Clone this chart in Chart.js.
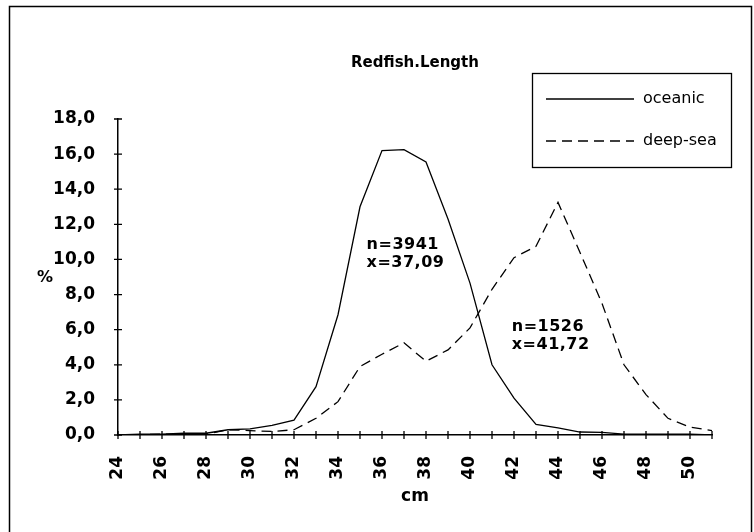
<!DOCTYPE html>
<html>
<head>
  <title>Redfish.Length</title>
  <script src="https://cdn.jsdelivr.net/npm/chart.js@4.4.1/dist/chart.umd.min.js"></script>
  <style>
    body { margin: 0; background: #fff; }
    canvas { display: block; }
  </style>
  <script>
    // length classes, cm
    var cm = [24, 25, 26, 27, 28, 29, 30, 31, 32, 33, 34, 35, 36, 37,
              38, 39, 40, 41, 42, 43, 44, 45, 46, 47, 48, 49, 50, 51];
    // percent per length class
    var oceanic = [0.0, 0.05, 0.05, 0.1, 0.1, 0.3, 0.35, 0.55, 0.85, 2.75, 6.85, 13.0, 16.2, 16.25,
                   15.55, 12.3, 8.65, 4.0, 2.1, 0.6, 0.4, 0.17, 0.15, 0.05, 0.05, 0.05, 0.05, 0.0];
    var deepSea = [0.0, 0.02, 0.05, 0.05, 0.05, 0.3, 0.25, 0.2, 0.3, 0.95, 1.9, 3.9, 4.6, 5.25,
                   4.2, 4.85, 6.1, 8.3, 10.1, 10.75, 13.25, 10.4, 7.5, 4.0, 2.3, 0.95, 0.45, 0.25];
    var seriesNames = ['oceanic', 'deep-sea'];
    var stats = [['n=3941', 'x=37,09'], ['n=1526', 'x=41,72']];

    var FONT = 'DejaVu Sans';
    var DASH = [10, 6];

    // frame, axis crosses, legend box, labels
    var extras = {
      id: 'extras',
      beforeDraw: function(chart) {
        var ctx = chart.ctx;
        ctx.save();
        ctx.strokeStyle = '#000';
        ctx.lineWidth = 1.5;
        ctx.strokeRect(9.5, 6.5, 742, 540);
        ctx.restore();
      },
      afterDraw: function(chart) {
        var ctx = chart.ctx;
        var x = chart.scales.x, y = chart.scales.y;
        ctx.save();
        ctx.strokeStyle = '#000';
        ctx.lineWidth = 1.3;
        ctx.beginPath();
        x.ticks.forEach(function(t, i) {
          var px = x.getPixelForTick(i);
          ctx.moveTo(px, y.bottom - 4);
          ctx.lineTo(px, y.bottom + 4);
        });
        y.ticks.forEach(function(t) {
          var py = y.getPixelForValue(t.value);
          ctx.moveTo(x.left - 4, py);
          ctx.lineTo(x.left + 4, py);
        });
        ctx.stroke();

        // legend
        ctx.strokeRect(532.5, 73.5, 199, 94);
        ctx.fillStyle = '#000';
        ctx.font = '16px "' + FONT + '"';
        ctx.textBaseline = 'middle';
        ctx.textAlign = 'left';
        chart.data.datasets.forEach(function(ds, i) {
          var ly = 99 + i * 42;
          ctx.setLineDash(ds.borderDash || []);
          ctx.lineWidth = 1.3;
          ctx.beginPath();
          ctx.moveTo(546, ly);
          ctx.lineTo(634, ly);
          ctx.stroke();
          ctx.fillText(ds.label, 643, ly);
        });
        ctx.setLineDash([]);

        // y title
        ctx.font = 'bold 16px "' + FONT + '"';
        ctx.textAlign = 'center';
        ctx.fillText('%', 45, 278);

        // n / mean annotations
        var anchors = [[35.3, 10.85], [41.9, 6.17]];
        var step = x.getPixelForValue(1) - x.getPixelForValue(0);
        ctx.textAlign = 'left';
        ctx.font = 'bold 16px "' + FONT + '"';
        if ('letterSpacing' in ctx) ctx.letterSpacing = '0.5px';
        stats.forEach(function(lines, i) {
          var ci = Math.floor(anchors[i][0]);
          var ax = x.getPixelForValue(cm.indexOf(ci)) + (anchors[i][0] - ci) * step;
          var ay = y.getPixelForValue(anchors[i][1]);
          lines.forEach(function(s, j) {
            ctx.fillText(s, ax, ay + j * 18);
          });
        });
        ctx.restore();
      }
    };

    function drawChart() {
      var ctx = document.getElementById('redfish').getContext('2d');
      new Chart(ctx, {
        type: 'line',
        data: {
          labels: cm,
          datasets: [{
            label: seriesNames[0],
            data: oceanic,
            borderColor: '#000',
            borderWidth: 1.3,
            pointRadius: 0,
            tension: 0
          }, {
            label: seriesNames[1],
            data: deepSea,
            borderColor: '#000',
            borderWidth: 1.3,
            borderDash: DASH,
            pointRadius: 0,
            tension: 0
          }]
        },
        options: {
          responsive: false,
          animation: false,
          layout: { padding: { left: 0, top: 0, right: 42, bottom: 0 } },
          plugins: {
            legend: { display: false },
            tooltip: { enabled: false },
            title: {
              display: true,
              text: 'Redfish.Length',
              color: '#000',
              fullSize: false,
              font: { family: FONT, size: 15, weight: 'bold' },
              padding: { top: 54, bottom: 47 }
            }
          },
          scales: {
            x: {
              offset: false,
              grid: { display: false },
              border: { color: '#000', width: 1.5 },
              ticks: {
                autoSkip: false,
                minRotation: 90,
                maxRotation: 90,
                padding: 13,
                color: '#000',
                font: { family: FONT, size: 17, weight: 'bold' },
                callback: function(v, i) {
                  return cm[i] % 2 === 0 ? String(cm[i]) : '';
                }
              },
              title: {
                display: true,
                text: 'cm',
                color: '#000',
                font: { family: FONT, size: 17, weight: 'bold' },
                padding: { top: 0, bottom: 25 }
              },
              afterFit: function(s) { s.height = 97; }
            },
            y: {
              min: 0,
              max: 18,
              grid: { display: false },
              border: { color: '#000', width: 1.5 },
              ticks: {
                stepSize: 2,
                padding: 15,
                color: '#000',
                font: { family: FONT, size: 17, weight: 'bold' },
                callback: function(v) {
                  return v.toFixed(1).replace('.', ',');
                }
              },
              afterFit: function(s) { s.width = 118; }
            }
          }
        },
        plugins: [extras]
      });
    }
    window.onload = drawChart;
  </script>
</head>
<body>
  <canvas id="redfish" width="754" height="532"></canvas>
</body>
</html>
